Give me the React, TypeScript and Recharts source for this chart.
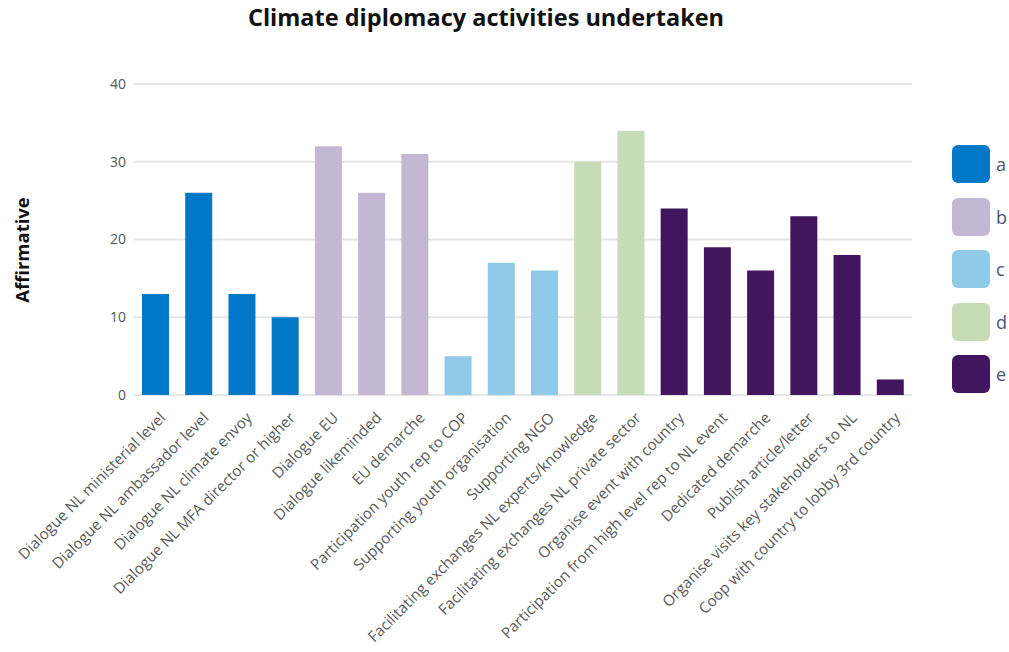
import { BarChart, Bar, XAxis, YAxis, CartesianGrid, Cell } from 'recharts';

const categories = [
    'Dialogue NL ministerial level',
    'Dialogue NL ambassador level',
    'Dialogue NL climate envoy',
    'Dialogue NL MFA director or higher',
    'Dialogue EU',
    'Dialogue likeminded',
    'EU demarche',
    'Participation youth rep to COP',
    'Supporting youth organisation',
    'Supporting NGO',
    'Facilitating exchanges NL experts/knowledge',
    'Facilitating exchanges NL private sector',
    'Organise event with country',
    'Participation from high level rep to NL event',
    'Dedicated demarche',
    'Publish article/letter',
    'Organise visits key stakeholders to NL',
    'Coop with country to lobby 3rd country',
];

const values = [13, 26, 13, 10, 32, 26, 31, 5, 17, 16, 30, 34, 24, 19, 16, 23, 18, 2];

const groups = ['a', 'a', 'a', 'a', 'b', 'b', 'b', 'c', 'c', 'c', 'd', 'd', 'e', 'e', 'e', 'e', 'e', 'e'];

const legendKeys = ['a', 'b', 'c', 'd', 'e'];
const groupColors: Record<string, string> = {
    a: '#0078c8',
    b: '#c4b7d3',
    c: '#8fcae8',
    d: '#c6dcb7',
    e: '#42165f',
};

const yTicks = [0, 10, 20, 30, 40];

const chartData = categories.map((name, i) => ({ name, value: values[i], group: groups[i] }));

const AngledTick = (props: any) => {
    const { x, y, payload } = props;
    return (
        <g transform={`translate(${x + 7},${y + 12}) rotate(-45)`}>
            <text x={0} y={0} dy="0.35em" textAnchor="end" fill="#5a5a5a" fontSize={15.2} fontFamily="'Open Sans', sans-serif">
                {payload.value}
            </text>
        </g>
    );
};

export default function App() {
    return (
        <div style={{ position: 'absolute', left: 0, top: 0, width: 1009, height: 652, background: '#fff', fontFamily: "'Open Sans', sans-serif" }}>
            <div style={{ position: 'absolute', left: 0, width: 972, top: 1, textAlign: 'center', fontSize: 23.5, fontWeight: 700, color: '#111' }}>
                Climate diplomacy activities undertaken
            </div>
            <div
                style={{
                    position: 'absolute',
                    left: 21,
                    top: 250,
                    transform: 'translate(-50%, -50%) rotate(-90deg)',
                    fontSize: 18.5,
                    fontWeight: 700,
                    color: '#111',
                    whiteSpace: 'nowrap',
                }}
            >
                Affirmative
            </div>
            <BarChart width={1009} height={652} data={chartData} margin={{ top: 84, right: 97, left: 94, bottom: 27 }} barSize={27}>
                <CartesianGrid vertical={false} stroke="#e6e6e6" strokeWidth={2} />
                <XAxis dataKey="name" interval={0} height={230} tick={<AngledTick />} axisLine={false} tickLine={false} />
                <YAxis
                    domain={[0, 40]}
                    ticks={yTicks}
                    width={40}
                    axisLine={false}
                    tickLine={false}
                    tick={{ fill: '#555', fontSize: 14, fontFamily: "'Open Sans', sans-serif" }}
                />
                <Bar dataKey="value" isAnimationActive={false}>
                    {chartData.map((d, i) => (
                        <Cell key={i} fill={groupColors[d.group]} />
                    ))}
                </Bar>
            </BarChart>
            {legendKeys.map((k, i) => (
                <div key={k} style={{ position: 'absolute', left: 952, top: 145 + i * 52.5, display: 'flex', alignItems: 'center' }}>
                    <div style={{ width: 38, height: 38, borderRadius: 6, background: groupColors[k] }} />
                    <span style={{ marginLeft: 6, fontSize: 18, lineHeight: '38px', color: '#4a5573' }}>{k}</span>
                </div>
            ))}
        </div>
    );
}
